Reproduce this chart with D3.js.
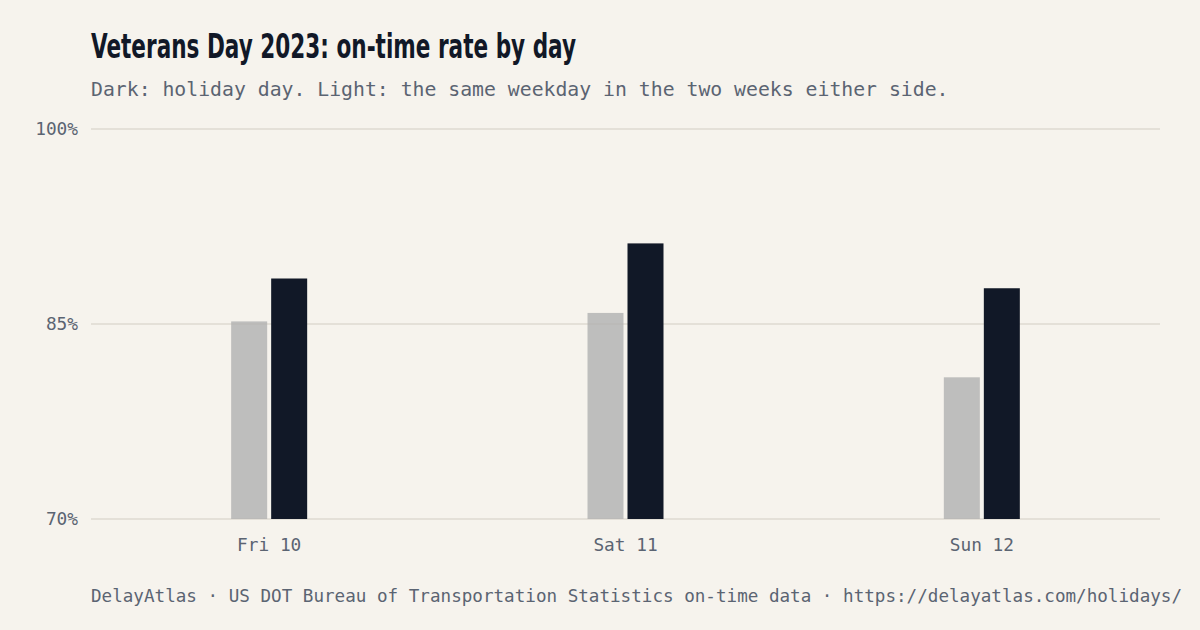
<!DOCTYPE html>
<html>
<head>
<meta charset="utf-8">
<script src="https://cdn.jsdelivr.net/npm/d3@7"></script>
<style>
  html, body { margin: 0; padding: 0; background: #f6f3ed; }
  svg { display: block; }
</style>
</head>
<body>
<div id="chart"></div>
<script>
// values
const days = ["Fri 10", "Sat 11", "Sun 12"];
const baseline = [85.2, 85.85, 80.9];   // same weekday, two weeks either side
const holiday = [88.5, 91.2, 87.75];   // the holiday day itself
const yTicks = [70, 85, 100];

const width = 1200, height = 630;
const margin = { left: 91, right: 40, top: 129, bottom: 111 };

const svg = d3.select("#chart")
  .append("svg")
  .attr("width", width)
  .attr("height", height);

svg.append("rect")
  .attr("width", width)
  .attr("height", height)
  .attr("fill", "#f6f3ed");

const x = d3.scaleBand()
  .domain(days)
  .range([margin.left, width - margin.right])
  .padding(0);

const y = d3.scaleLinear()
  .domain([70, 100])
  .range([height - margin.bottom, margin.top]);

const barW = 36, gap = 4;

// title + subtitle
svg.append("text")
  .attr("x", 91)
  .attr("y", 58)
  .attr("font-family", "'Liberation Sans Narrow', 'DejaVu Sans Condensed', sans-serif")
  .attr("font-weight", 700)
  .attr("font-size", 33)
  .attr("fill", "#111827")
  .attr("textLength", 485)
  .attr("lengthAdjust", "spacingAndGlyphs")
  .text("Veterans Day 2023: on-time rate by day");

svg.append("text")
  .attr("x", 91)
  .attr("y", 96)
  .attr("font-family", "'DejaVu Sans Mono', monospace")
  .attr("font-size", 19.8)
  .attr("fill", "#5b6472")
  .text("Dark: holiday day. Light: the same weekday in the two weeks either side.");

// gridlines
svg.append("g")
  .selectAll("line")
  .data(yTicks)
  .join("line")
  .attr("x1", margin.left)
  .attr("x2", width - margin.right)
  .attr("y1", d => y(d))
  .attr("y2", d => y(d))
  .attr("stroke", "#e4e0d8")
  .attr("stroke-width", 2);

svg.append("g")
  .selectAll("text")
  .data(yTicks)
  .join("text")
  .attr("x", 78)
  .attr("y", d => y(d) + 6)
  .attr("text-anchor", "end")
  .attr("font-family", "'DejaVu Sans Mono', monospace")
  .attr("font-size", 17.8)
  .attr("fill", "#5b6472")
  .text(d => d + "%");

// bars
const group = svg.append("g")
  .selectAll("g")
  .data(days.map((d, i) => ({ day: d, base: baseline[i], hol: holiday[i] })))
  .join("g")
  .attr("transform", d => `translate(${x(d.day) + x.bandwidth() / 2}, 0)`);

group.append("rect")
  .attr("x", -barW - gap / 2)
  .attr("y", d => y(d.base))
  .attr("width", barW)
  .attr("height", d => y(70) - y(d.base))
  .attr("fill", "#b0b0b0")
  .attr("fill-opacity", 0.8);

group.append("rect")
  .attr("x", gap / 2)
  .attr("y", d => y(d.hol))
  .attr("width", barW)
  .attr("height", d => y(70) - y(d.hol))
  .attr("fill", "#111827");

group.append("text")
  .attr("y", 551)
  .attr("text-anchor", "middle")
  .attr("font-family", "'DejaVu Sans Mono', monospace")
  .attr("font-size", 17.8)
  .attr("fill", "#5b6472")
  .text(d => d.day);

// footer
svg.append("text")
  .attr("x", 91)
  .attr("y", 602)
  .attr("font-family", "'DejaVu Sans Mono', monospace")
  .attr("font-size", 17.6)
  .attr("fill", "#5b6472")
  .text("DelayAtlas · US DOT Bureau of Transportation Statistics on-time data · https://delayatlas.com/holidays/");
</script>
</body>
</html>
